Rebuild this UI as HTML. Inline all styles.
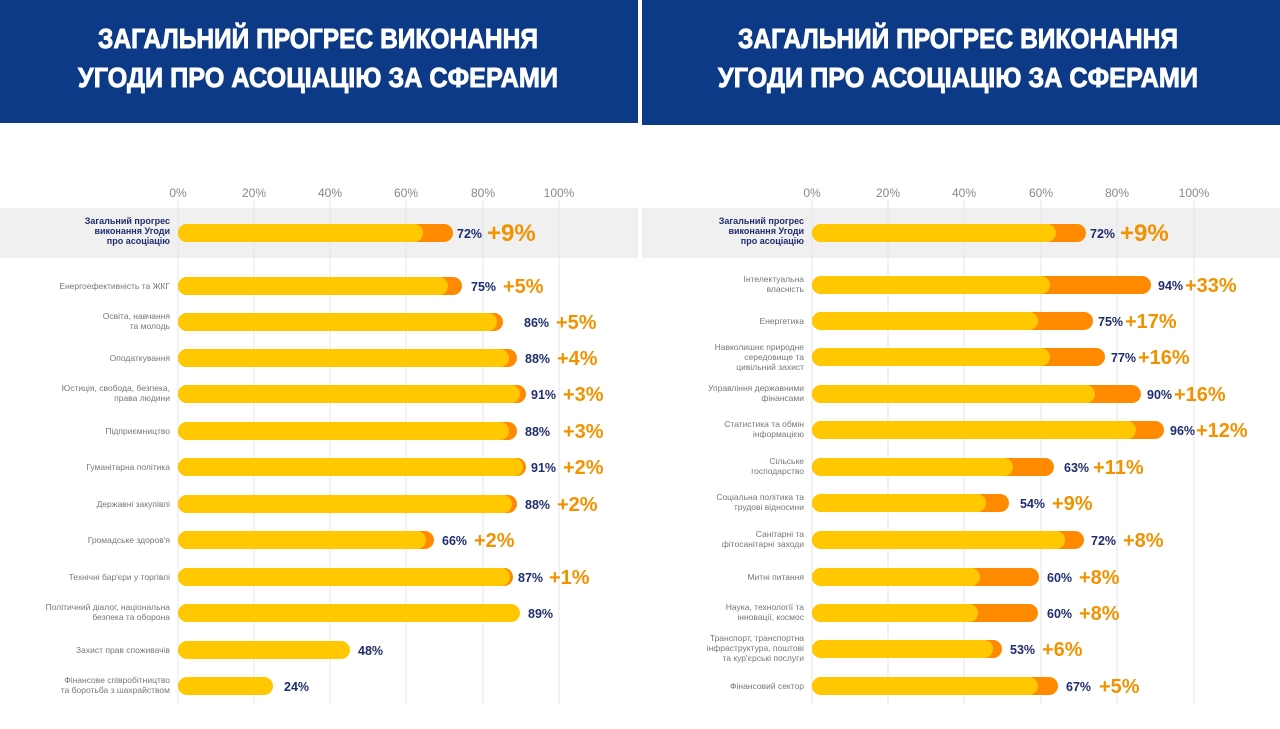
<!DOCTYPE html><html><head><meta charset="utf-8"><style>
html,body{margin:0;padding:0;background:#fff;width:1280px;height:729px;overflow:hidden}
svg{display:block}
.h{font-family:"Liberation Sans",sans-serif;font-weight:bold;font-size:28px;fill:#fff;stroke:#fff;stroke-width:0.9;text-anchor:middle}
.ax{font-family:"Liberation Sans",sans-serif;font-size:12px;fill:#888;text-anchor:middle}
.l{font-family:"Liberation Sans",sans-serif;font-size:8.5px;fill:#777;text-anchor:end}
.lb{font-family:"Liberation Sans",sans-serif;font-size:9px;fill:#1f2d6e;font-weight:bold;text-anchor:end}
.v{font-family:"Liberation Sans",sans-serif;font-size:12.5px;fill:#1f2d6e;font-weight:bold}
.i{font-family:"Liberation Sans",sans-serif;font-size:20px;fill:#f39200;font-weight:bold}
.i1{font-family:"Liberation Sans",sans-serif;font-size:24px;fill:#f39200;font-weight:bold}
.y{fill:#ffc800}.o{fill:#ff8a00}
</style></head><body>
<svg width="1280" height="729" viewBox="0 0 1280 729">
<rect x="0" y="0" width="638" height="123" fill="#0c3a87"/>
<rect x="642" y="0" width="638" height="125" fill="#0c3a87"/>
<text class="h" x="318" y="48" textLength="440" lengthAdjust="spacingAndGlyphs">ЗАГАЛЬНИЙ ПРОГРЕС ВИКОНАННЯ</text>
<text class="h" x="318" y="87" textLength="480" lengthAdjust="spacingAndGlyphs">УГОДИ ПРО АСОЦІАЦІЮ ЗА СФЕРАМИ</text>
<text class="h" x="958" y="48" textLength="440" lengthAdjust="spacingAndGlyphs">ЗАГАЛЬНИЙ ПРОГРЕС ВИКОНАННЯ</text>
<text class="h" x="958" y="87" textLength="480" lengthAdjust="spacingAndGlyphs">УГОДИ ПРО АСОЦІАЦІЮ ЗА СФЕРАМИ</text>
<rect x="0" y="208" width="638" height="50" fill="#f0f0f0"/>
<rect x="642" y="208" width="638" height="50" fill="#f0f0f0"/>
<g stroke="#e4e4e4" stroke-width="1">
<line x1="178" y1="200" x2="178" y2="705"/><line x1="254" y1="200" x2="254" y2="705"/><line x1="330" y1="200" x2="330" y2="705"/><line x1="406" y1="200" x2="406" y2="705"/><line x1="483" y1="200" x2="483" y2="705"/><line x1="559" y1="200" x2="559" y2="705"/>
<line x1="812" y1="200" x2="812" y2="705"/><line x1="888" y1="200" x2="888" y2="705"/><line x1="964" y1="200" x2="964" y2="705"/><line x1="1041" y1="200" x2="1041" y2="705"/><line x1="1117" y1="200" x2="1117" y2="705"/><line x1="1194" y1="200" x2="1194" y2="705"/>
</g>
<g class="ax">
<text x="178" y="197" class="ax">0%</text><text x="254" y="197" class="ax">20%</text><text x="330" y="197" class="ax">40%</text><text x="406" y="197" class="ax">60%</text><text x="483" y="197" class="ax">80%</text><text x="559" y="197" class="ax">100%</text>
<text x="812" y="197" class="ax">0%</text><text x="888" y="197" class="ax">20%</text><text x="964" y="197" class="ax">40%</text><text x="1041" y="197" class="ax">60%</text><text x="1117" y="197" class="ax">80%</text><text x="1194" y="197" class="ax">100%</text>
</g>
<!-- LEFT -->
<rect class="o" x="178" y="224" width="275" height="18" rx="9"/><rect class="y" x="178" y="224" width="245" height="18" rx="9"/>
<text class="lb" x="170" y="224">Загальний прогрес</text><text class="lb" x="170" y="234">виконання Угоди</text><text class="lb" x="170" y="244">про асоціацію</text>
<text class="v" x="457" y="238">72%</text><text class="i1" x="487" y="241">+9%</text>

<rect class="o" x="178" y="277" width="284" height="18" rx="9"/><rect class="y" x="178" y="277" width="270" height="18" rx="9"/>
<text class="l" x="170" y="289">Енергоефективність та ЖКГ</text>
<text class="v" x="471" y="291">75%</text><text class="i" x="503" y="293">+5%</text>

<rect class="o" x="178" y="313" width="325" height="18" rx="9"/><rect class="y" x="178" y="313" width="319" height="18" rx="9"/>
<text class="l" x="170" y="319">Освіта, навчання</text><text class="l" x="170" y="329">та молодь</text>
<text class="v" x="524" y="327">86%</text><text class="i" x="556" y="329">+5%</text>

<rect class="o" x="178" y="349" width="339" height="18" rx="9"/><rect class="y" x="178" y="349" width="331" height="18" rx="9"/>
<text class="l" x="170" y="361">Оподаткування</text>
<text class="v" x="525" y="363">88%</text><text class="i" x="557" y="365">+4%</text>

<rect class="o" x="178" y="385" width="348" height="18" rx="9"/><rect class="y" x="178" y="385" width="342" height="18" rx="9"/>
<text class="l" x="170" y="391">Юстиція, свобода, безпека,</text><text class="l" x="170" y="401">права людини</text>
<text class="v" x="531" y="399">91%</text><text class="i" x="563" y="401">+3%</text>

<rect class="o" x="178" y="422" width="339" height="18" rx="9"/><rect class="y" x="178" y="422" width="331" height="18" rx="9"/>
<text class="l" x="170" y="434">Підприємництво</text>
<text class="v" x="525" y="436">88%</text><text class="i" x="563" y="438">+3%</text>

<rect class="o" x="178" y="458" width="348" height="18" rx="9"/><rect class="y" x="178" y="458" width="345" height="18" rx="9"/>
<text class="l" x="170" y="470">Гуманітарна політика</text>
<text class="v" x="531" y="472">91%</text><text class="i" x="563" y="474">+2%</text>

<rect class="o" x="178" y="495" width="339" height="18" rx="9"/><rect class="y" x="178" y="495" width="334" height="18" rx="9"/>
<text class="l" x="170" y="507">Державні закупівлі</text>
<text class="v" x="525" y="509">88%</text><text class="i" x="557" y="511">+2%</text>

<rect class="o" x="178" y="531" width="256" height="18" rx="9"/><rect class="y" x="178" y="531" width="248" height="18" rx="9"/>
<text class="l" x="170" y="543">Громадське здоров'я</text>
<text class="v" x="442" y="545">66%</text><text class="i" x="474" y="547">+2%</text>

<rect class="o" x="178" y="568" width="335" height="18" rx="9"/><rect class="y" x="178" y="568" width="332" height="18" rx="9"/>
<text class="l" x="170" y="580">Технічні бар'єри у торгівлі</text>
<text class="v" x="518" y="582">87%</text><text class="i" x="549" y="584">+1%</text>

<rect class="y" x="178" y="604" width="342" height="18" rx="9"/>
<text class="l" x="170" y="610">Політичний діалог, національна</text><text class="l" x="170" y="620">безпека та оборона</text>
<text class="v" x="528" y="618">89%</text>

<rect class="y" x="178" y="641" width="172" height="18" rx="9"/>
<text class="l" x="170" y="653">Захист прав споживачів</text>
<text class="v" x="358" y="655">48%</text>

<rect class="y" x="178" y="677" width="95" height="18" rx="9"/>
<text class="l" x="170" y="683">Фінансове співробітництво</text><text class="l" x="170" y="693">та боротьба з шахрайством</text>
<text class="v" x="284" y="691">24%</text>

<!-- RIGHT -->
<rect class="o" x="812" y="224" width="274" height="18" rx="9"/><rect class="y" x="812" y="224" width="244" height="18" rx="9"/>
<text class="lb" x="804" y="224">Загальний прогрес</text><text class="lb" x="804" y="234">виконання Угоди</text><text class="lb" x="804" y="244">про асоціацію</text>
<text class="v" x="1090" y="238">72%</text><text class="i1" x="1120" y="241">+9%</text>

<rect class="o" x="812" y="276" width="339" height="18" rx="9"/><rect class="y" x="812" y="276" width="238" height="18" rx="9"/>
<text class="l" x="804" y="282">Інтелектуальна</text><text class="l" x="804" y="292">власність</text>
<text class="v" x="1158" y="290">94%</text><text class="i" x="1185" y="292">+33%</text>

<rect class="o" x="812" y="312" width="281" height="18" rx="9"/><rect class="y" x="812" y="312" width="226" height="18" rx="9"/>
<text class="l" x="804" y="324">Енергетика</text>
<text class="v" x="1098" y="326">75%</text><text class="i" x="1125" y="328">+17%</text>

<rect class="o" x="812" y="348" width="293" height="18" rx="9"/><rect class="y" x="812" y="348" width="238" height="18" rx="9"/>
<text class="l" x="804" y="350">Навколишнє природне</text><text class="l" x="804" y="360">середовище та</text><text class="l" x="804" y="370">цивільний захист</text>
<text class="v" x="1111" y="362">77%</text><text class="i" x="1138" y="364">+16%</text>

<rect class="o" x="812" y="385" width="329" height="18" rx="9"/><rect class="y" x="812" y="385" width="283" height="18" rx="9"/>
<text class="l" x="804" y="391">Управління державними</text><text class="l" x="804" y="401">фінансами</text>
<text class="v" x="1147" y="399">90%</text><text class="i" x="1174" y="401">+16%</text>

<rect class="o" x="812" y="421" width="352" height="18" rx="9"/><rect class="y" x="812" y="421" width="324" height="18" rx="9"/>
<text class="l" x="804" y="427">Статистика та обмін</text><text class="l" x="804" y="437">інформацією</text>
<text class="v" x="1170" y="435">96%</text><text class="i" x="1196" y="437">+12%</text>

<rect class="o" x="812" y="458" width="242" height="18" rx="9"/><rect class="y" x="812" y="458" width="201" height="18" rx="9"/>
<text class="l" x="804" y="464">Сільське</text><text class="l" x="804" y="474">господарство</text>
<text class="v" x="1064" y="472">63%</text><text class="i" x="1093" y="474">+11%</text>

<rect class="o" x="812" y="494" width="197" height="18" rx="9"/><rect class="y" x="812" y="494" width="174" height="18" rx="9"/>
<text class="l" x="804" y="500">Соціальна політика та</text><text class="l" x="804" y="510">трудові відносини</text>
<text class="v" x="1020" y="508">54%</text><text class="i" x="1052" y="510">+9%</text>

<rect class="o" x="812" y="531" width="272" height="18" rx="9"/><rect class="y" x="812" y="531" width="253" height="18" rx="9"/>
<text class="l" x="804" y="537">Санітарні та</text><text class="l" x="804" y="547">фітосанітарні заходи</text>
<text class="v" x="1091" y="545">72%</text><text class="i" x="1123" y="547">+8%</text>

<rect class="o" x="812" y="568" width="227" height="18" rx="9"/><rect class="y" x="812" y="568" width="168" height="18" rx="9"/>
<text class="l" x="804" y="580">Митні питання</text>
<text class="v" x="1047" y="582">60%</text><text class="i" x="1079" y="584">+8%</text>

<rect class="o" x="812" y="604" width="226" height="18" rx="9"/><rect class="y" x="812" y="604" width="166" height="18" rx="9"/>
<text class="l" x="804" y="610">Наука, технології та</text><text class="l" x="804" y="620">інновації, космос</text>
<text class="v" x="1047" y="618">60%</text><text class="i" x="1079" y="620">+8%</text>

<rect class="o" x="812" y="640" width="190" height="18" rx="9"/><rect class="y" x="812" y="640" width="181" height="18" rx="9"/>
<text class="l" x="804" y="641">Транспорт, транспортна</text><text class="l" x="804" y="651">інфраструктура, поштові</text><text class="l" x="804" y="661">та кур'єрські послуги</text>
<text class="v" x="1010" y="654">53%</text><text class="i" x="1042" y="656">+6%</text>

<rect class="o" x="812" y="677" width="246" height="18" rx="9"/><rect class="y" x="812" y="677" width="226" height="18" rx="9"/>
<text class="l" x="804" y="689">Фінансовий сектор</text>
<text class="v" x="1066" y="691">67%</text><text class="i" x="1099" y="693">+5%</text>
</svg>
</body></html>
